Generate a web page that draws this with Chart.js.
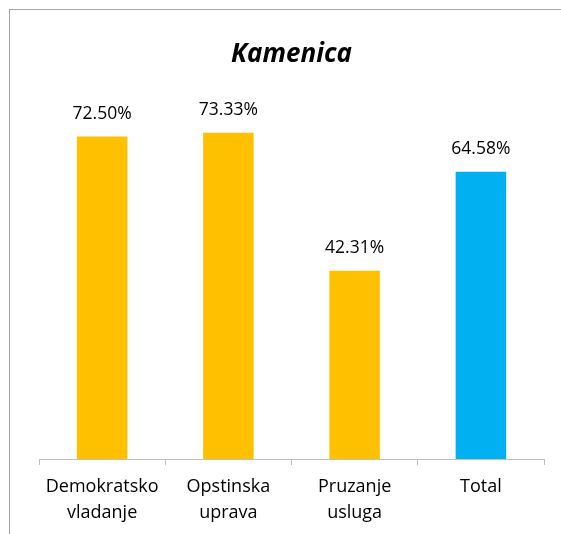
<!DOCTYPE html>
<html lang="en">
<head>
    <meta charset="UTF-8">
    <title>Kamenica</title>
    <script src="https://cdn.jsdelivr.net/npm/chart.js"></script>
    <style>
        * { margin: 0; padding: 0; box-sizing: border-box; }
        body { background: #ffffff; width: 561px; height: 534px; overflow: hidden; }
        .frame {
            position: absolute;
            left: 9px;
            top: 9px;
            width: 560px;
            height: 540px;
            border-left: 1px solid #a6a6a6;
            border-top: 1px solid #a6a6a6;
        }
        .wrap { position: absolute; left: 0; top: 0; width: 561px; height: 534px; }
    </style>
</head>
<body>
    <div class="frame"></div>
    <div class="wrap"><canvas id="chart"></canvas></div>

    <script>
        // data
        const categories = [['Demokratsko', 'vladanje'], ['Opstinska', 'uprava'], ['Pruzanje', 'usluga'], 'Total'];
        const values = [72.50, 73.33, 42.31, 64.58];
        const barColors = ['#FFC000', '#FFC000', '#FFC000', '#00B0F0'];
        const chartTitle = 'Kamenica';

        const FONT = "'Open Sans', 'Noto Sans', sans-serif";

        // value labels above each bar
        const valueLabels = {
            id: 'valueLabels',
            afterDatasetsDraw(chart) {
                const ctx = chart.ctx;
                const meta = chart.getDatasetMeta(0);
                ctx.save();
                ctx.font = '17.5px ' + FONT;
                ctx.fillStyle = '#000000';
                ctx.textAlign = 'center';
                ctx.textBaseline = 'middle';
                meta.data.forEach((bar, i) => {
                    ctx.fillText(values[i].toFixed(2) + '%', bar.x, bar.y - 23);
                });
                ctx.restore();
            }
        };

        new Chart(document.getElementById('chart'), {
            type: 'bar',
            data: {
                labels: categories,
                datasets: [{
                    data: values,
                    backgroundColor: barColors,
                    categoryPercentage: 1,
                    barPercentage: 0.4
                }]
            },
            options: {
                responsive: true,
                maintainAspectRatio: false,
                animation: false,
                layout: { padding: { left: 39, right: 17, top: 0, bottom: 0 } },
                plugins: {
                    legend: { display: false },
                    tooltip: { enabled: false },
                    title: {
                        display: true,
                        text: chartTitle,
                        color: '#000000',
                        font: { family: FONT, size: 26, weight: 'bold', style: 'italic', lineHeight: 1.2 },
                        padding: { top: 39, bottom: 33 }
                    }
                },
                scales: {
                    y: {
                        display: false,
                        min: 0,
                        max: 80
                    },
                    x: {
                        grid: {
                            offset: true,
                            drawOnChartArea: false,
                            drawTicks: true,
                            tickLength: 6,
                            color: '#bfbfbf'
                        },
                        border: { display: true, color: '#bfbfbf' },
                        ticks: {
                            color: '#000000',
                            padding: 9,
                            maxRotation: 0,
                            autoSkip: false,
                            font: { family: FONT, size: 18, lineHeight: 1.45 }
                        },
                        afterFit(scale) { scale.height = 75; }
                    }
                }
            },
            plugins: [valueLabels]
        });
    </script>
</body>
</html>
